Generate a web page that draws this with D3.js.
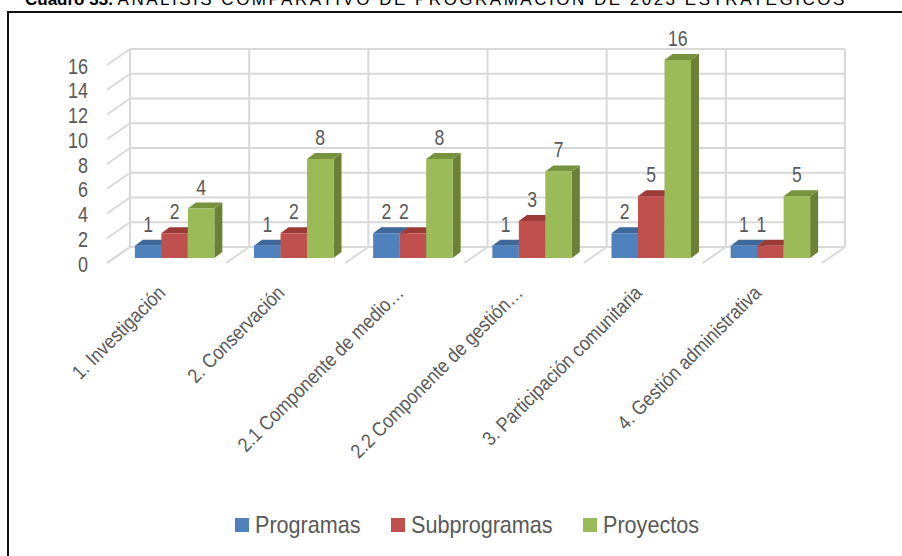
<!DOCTYPE html>
<html>
<head>
<meta charset="utf-8">
<script src="https://cdn.jsdelivr.net/npm/d3@7"></script>
<style>
html,body{margin:0;padding:0;background:#fff;overflow:hidden;}
svg{display:block;}
</style>
</head>
<body>
<svg id="chart" width="902" height="556"></svg>
<script>
const categories = ["1. Investigación","2. Conservación","2.1 Componente de medio…","2.2 Componente de gestión…","3. Participación comunitaria","4. Gestión administrativa"];
const seriesNames = ["Programas","Subprogramas","Proyectos"];
const programas = [1,1,2,1,2,1];
const subprogramas = [2,2,2,3,5,1];
const proyectos = [4,8,8,7,16,5];
const yTicks = [0,2,4,6,8,10,12,14,16];
const titleBold = "Cuadro 33. ";
const titleRest = "ANÁLISIS COMPARATIVO DE PROGRAMACIÓN DE 2023 ESTRATÉGICOS";

const seriesValues = [programas, subprogramas, proyectos];
const colors = [
  {front:"#4f81bd", top:"#3d6899", side:"#385f8c"},
  {front:"#c0504d", top:"#9a3b38", side:"#8e3532"},
  {front:"#9bbb59", top:"#77933d", side:"#6a8136"}
];
const FONT = "'Liberation Sans',Arial,sans-serif";
const textColor = "#595959";
const gridColor = "#d9d9d9";

const svg = d3.select("#chart");

// title (cut at top, as in the original)
const t = svg.append("text").attr("x", 25).attr("y", 5)
  .attr("font-family",FONT).attr("font-size",17).attr("fill","#000");
t.append("tspan").attr("font-weight","bold").text(titleBold);
t.append("tspan").attr("letter-spacing", 2.5).text(titleRest);

// frame
svg.append("rect").attr("x",8).attr("y",12).attr("width",920).attr("height",560)
  .attr("fill","none").attr("stroke","#111").attr("stroke-width",2);

// geometry
const backX0 = 130, backX1 = 845;
const depthDx = -23, depthDy = 16;
const barDx = -15, barDy = 11;
const barDepthX = 8, barDepthY = -6;

const yBack = d3.scaleLinear().domain([0,16]).range([247,49]);
const yBar = d3.scaleLinear().domain([0,16]).range([247+barDy, 49+barDy]);
const xBack = d3.scaleBand().domain(categories).range([backX0, backX1]);
const xBar = d3.scaleBand().domain(categories).range([backX0+barDx, backX1+barDx])
  .paddingInner(0.333).paddingOuter(0.1667);
const xSeries = d3.scaleBand().domain(seriesNames).range([0, xBar.bandwidth()]);

const grid = svg.append("g").attr("stroke", gridColor).attr("stroke-width",2).attr("fill","none");
yTicks.forEach(v => {
  const y = yBack(v);
  grid.append("line").attr("x1",backX0).attr("x2",backX1).attr("y1",y).attr("y2",y);
  grid.append("line").attr("x1",backX0).attr("y1",y).attr("x2",backX0+depthDx).attr("y2",y+depthDy);
});
const bounds = categories.map(c => xBack(c)).concat([backX1]);
bounds.forEach(x => {
  grid.append("line").attr("x1",x).attr("x2",x).attr("y1",yBack(16)).attr("y2",yBack(0));
  grid.append("line").attr("x1",x).attr("y1",yBack(0)).attr("x2",x+depthDx).attr("y2",yBack(0)+depthDy);
});

// y axis labels (condensed look)
svg.append("g").selectAll("text").data(yTicks).join("text")
  .attr("transform", d => `translate(88,${yBack(d)+depthDy+1}) scale(0.82,1)`)
  .attr("text-anchor","end").attr("dominant-baseline","central")
  .attr("font-family",FONT).attr("font-size",22).attr("fill",textColor)
  .text(d => d);

// bars
const barsG = svg.append("g");
categories.forEach((c, ci) => {
  seriesNames.forEach((s, si) => {
    const v = seriesValues[si][ci];
    const x0 = xBar(c) + xSeries(s), w = xSeries.bandwidth();
    const yb = yBar(0), yt = yBar(v);
    const col = colors[si];
    barsG.append("path").attr("fill", col.side)
      .attr("d", `M${x0+w},${yb} L${x0+w+barDepthX},${yb+barDepthY} L${x0+w+barDepthX},${yt+barDepthY} L${x0+w},${yt} Z`);
    barsG.append("path").attr("fill", col.top)
      .attr("d", `M${x0},${yt} L${x0+w},${yt} L${x0+w+barDepthX},${yt+barDepthY} L${x0+barDepthX},${yt+barDepthY} Z`);
    barsG.append("rect").attr("x",x0).attr("y",yt).attr("width",w).attr("height",yb-yt).attr("fill",col.front);
  });
});

// value labels
const lab = svg.append("g").attr("font-family",FONT).attr("font-size",22).attr("fill",textColor).attr("text-anchor","middle");
categories.forEach((c, ci) => {
  seriesNames.forEach((s, si) => {
    const v = seriesValues[si][ci];
    let x = xBar(c) + xSeries(s) + xSeries.bandwidth()/2;
    if (si > 0 && seriesValues[si-1][ci] === v) x -= 9;
    lab.append("text").attr("transform", `translate(${x},${yBar(v) - 14}) scale(0.8,1)`).text(v);
  });
});

// category labels
svg.append("g").selectAll("text").data(categories).join("text")
  .attr("transform", d => `translate(${xBack(d)+xBack.bandwidth()/2-23},294) rotate(-45) scale(0.88,1)`)
  .attr("text-anchor","end")
  .attr("font-family",FONT).attr("font-size",20).attr("fill",textColor)
  .text(d => d);

// legend
const legendX = [235, 391, 583];
const lg = svg.append("g");
seriesNames.forEach((s, i) => {
  lg.append("rect").attr("x",legendX[i]).attr("y",518).attr("width",14).attr("height",14).attr("fill",colors[i].front);
  lg.append("text").attr("transform", `translate(${legendX[i]+20},533) scale(0.9,1)`)
    .attr("font-family",FONT).attr("font-size",24).attr("fill",textColor).text(s);
});
</script>
</body>
</html>
